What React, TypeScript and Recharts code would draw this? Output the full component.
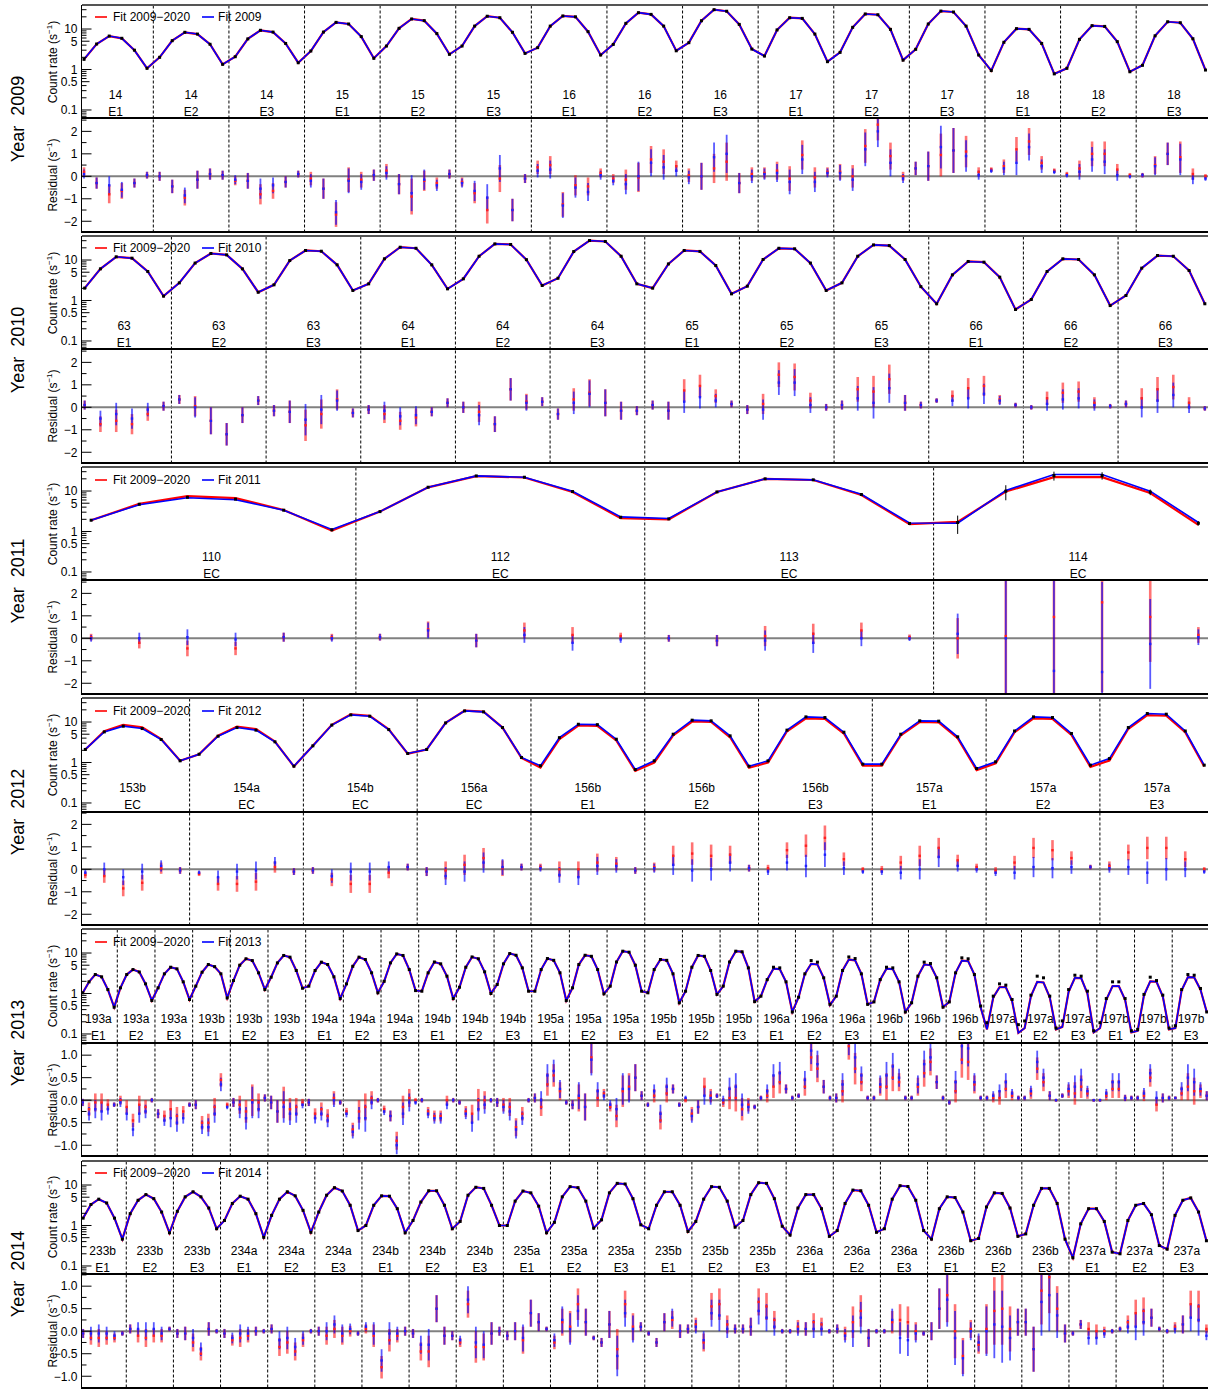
import React from "react";
import {
  ComposedChart,
  Line,
  Scatter,
  ErrorBar,
  XAxis,
  YAxis,
  ReferenceLine,
} from "recharts";

const FONT = "'Liberation Sans', Arial, Helvetica, sans-serif";
const W = 1210;
const PLOT_L = 81.5;
const PLOT_R = 1208;
const PANEL_H = 113.5;
const BLOCK_STEP = 231.1;
const FIRST_TOP = 5;

// ---------- segment labels ----------
const runs2009 = ["14", "14", "14", "15", "15", "15", "16", "16", "16", "17", "17", "17", "18", "18", "18"];
const modes2009 = ["E1", "E2", "E3", "E1", "E2", "E3", "E1", "E2", "E3", "E1", "E2", "E3", "E1", "E2", "E3"];
const runs2010 = ["63", "63", "63", "64", "64", "64", "65", "65", "65", "66", "66", "66"];
const modes2010 = ["E1", "E2", "E3", "E1", "E2", "E3", "E1", "E2", "E3", "E1", "E2", "E3"];
const runs2011 = ["110", "112", "113", "114"];
const modes2011 = ["EC", "EC", "EC", "EC"];
const runs2012 = ["153b", "154a", "154b", "156a", "156b", "156b", "156b", "157a", "157a", "157a"];
const modes2012 = ["EC", "EC", "EC", "EC", "E1", "E2", "E3", "E1", "E2", "E3"];
const runs2013 = [
  "193a", "193a", "193a", "193b", "193b", "193b", "194a", "194a", "194a", "194b", "194b", "194b",
  "195a", "195a", "195a", "195b", "195b", "195b", "196a", "196a", "196a", "196b", "196b", "196b",
  "197a", "197a", "197a", "197b", "197b", "197b",
];
const modes2013 = [
  "E1", "E2", "E3", "E1", "E2", "E3", "E1", "E2", "E3", "E1", "E2", "E3", "E1", "E2", "E3",
  "E1", "E2", "E3", "E1", "E2", "E3", "E1", "E2", "E3", "E1", "E2", "E3", "E1", "E2", "E3",
];
const runs2014 = [
  "233b", "233b", "233b", "234a", "234a", "234a", "234b", "234b", "234b", "235a", "235a", "235a",
  "235b", "235b", "235b", "236a", "236a", "236a", "236b", "236b", "236b", "237a", "237a", "237a",
];
const modes2014 = [
  "E1", "E2", "E3", "E1", "E2", "E3", "E1", "E2", "E3", "E1", "E2", "E3",
  "E1", "E2", "E3", "E1", "E2", "E3", "E1", "E2", "E3", "E1", "E2", "E3",
];

// ---------- count rates (s^-1) ----------
const rate2009 = [
  1.78, 4.26, 6.7, 5.9, 3.0, 1.07,
  2.0, 5.15, 8.3, 7.5, 4.2, 1.34,
  2.07, 5.7, 9.3, 8.4, 4.4, 1.47,
  2.86, 8.4, 14.6, 13.3, 6.5, 1.89,
  3.8, 10.4, 17.7, 16.1, 7.7, 2.37,
  3.8, 11.8, 20.7, 19, 8.3, 2.5,
  3.46, 11.8, 21, 20, 8.6, 2.28,
  4.17, 13.8, 25.3, 23, 11.8, 2.9,
  4.6, 16, 30, 27.5, 13, 3.2,
  2.15, 9.5, 19, 18.3, 7.5, 1.56,
  2.65, 11, 23.5, 22.5, 9.8, 1.7,
  3.15, 13.3, 27.8, 26.3, 11.8, 2.28,
  0.94, 4.7, 10.2, 9.8, 4.4, 0.78,
  1.07, 5.55, 12.1, 11.6, 4.87, 0.88,
  1.27, 6.8, 15.1, 14.3, 5.75, 0.97,
];
const rate2010 = [
  2.02, 6.05, 12, 11.1, 5.2, 1.28,
  2.73, 8.4, 14.5, 13.4, 6.05, 1.6,
  2.44, 9.7, 17.2, 16.5, 7.6, 1.77,
  2.58, 10.7, 20.7, 19.5, 7.6, 1.94,
  3.43, 12.4, 25, 24.2, 10.2, 2.35,
  3.55, 16.2, 30.3, 28.7, 12.4, 2.58,
  2.02, 8.0, 17.2, 16.3, 7.3, 1.46,
  2.26, 10.3, 19.5, 18.9, 8.4, 1.77,
  2.73, 12.4, 23.6, 22.7, 10.3, 2.2,
  0.83, 4.3, 9.2, 8.85, 3.77, 0.6,
  1.06, 5.2, 10.7, 10.3, 4.3, 0.75,
  1.33, 6.3, 12.9, 12.4, 5.5, 0.83,
];
const rate2011 = [
  1.9, 4.7, 7.0, 6.3, 3.36, 1.1,
  3.1, 12.4, 23.6, 21.9, 9.7, 2.25,
  2.05, 9.5, 20, 18.9, 8.2, 1.58,
  1.67, 9.9, 24.1, 24.1, 9.4, 1.6,
];
const rateErr2011 = [
  0.1, 0.2, 0.3, 0.3, 0.15, 0.08,
  0.15, 0.5, 0.8, 0.8, 0.4, 0.1,
  0.1, 0.4, 0.7, 0.7, 0.3, 0.08,
  0.8, 4, 6, 5, 1.5, 0.2,
];
const fit2011 = [
  1.9, 4.6, 6.8, 6.1, 3.36, 1.12,
  3.1, 12.4, 23.6, 21.9, 9.9, 2.3,
  2.1, 9.5, 20, 18.9, 8.3, 1.62,
  1.6, 10.3, 25.5, 25.5, 9.9, 1.67,
];
const fitAll2011 = [
  1.9, 4.8, 7.5, 6.7, 3.4, 1.05,
  3.1, 12.3, 23.4, 21.6, 9.5, 2.15,
  2.0, 9.5, 20, 18.7, 8.0, 1.52,
  1.73, 9.7, 22, 22, 8.9, 1.46,
];
const rate2012 = [
  2.1, 5.7, 7.9, 6.9, 3.7, 1.1,
  1.6, 4.46, 7.3, 6.3, 3.24, 0.81,
  2.58, 8.4, 15, 13.9, 6.5, 1.67,
  2.1, 9.5, 18.8, 17.8, 7.3, 1.33,
  0.83, 4.1, 8.8, 8.6, 3.76, 0.67,
  1.1, 5.0, 11.1, 10.7, 4.55, 0.81,
  1.1, 6.3, 13.4, 12.9, 5.6, 0.91,
  0.91, 5.0, 10.7, 10.5, 4.3, 0.71,
  1.04, 6.0, 13.4, 12.9, 5.2, 0.86,
  1.25, 7.3, 16.2, 15.6, 6.0, 0.86,
];
const fitAll2012 = [
  2.1, 5.9, 8.5, 7.4, 3.8, 1.1,
  1.6, 4.6, 7.7, 6.7, 3.3, 0.8,
  2.6, 8.5, 15.5, 14.3, 6.6, 1.65,
  2.1, 9.5, 19, 18, 7.3, 1.3,
  0.75, 3.8, 8.2, 8.0, 3.5, 0.62,
  1.0, 4.7, 10.3, 10.0, 4.2, 0.74,
  1.0, 5.9, 12.3, 11.9, 5.2, 0.84,
  0.84, 4.7, 10.0, 9.8, 4.0, 0.65,
  0.95, 5.6, 12.3, 11.9, 4.8, 0.78,
  1.12, 6.8, 14.8, 14.3, 5.6, 0.8,
];
const rate2013 = [
  1.04, 1.94, 2.94, 2.58, 1.25, 0.46,
  1.38, 2.94, 3.9, 3.4, 1.73, 0.67,
  1.38, 3.06, 4.46, 4.06, 1.94, 0.71,
  1.52, 3.36, 5.2, 4.6, 3.06, 0.78,
  2.09, 5.0, 7.2, 6.5, 3.24, 1.25,
  2.53, 5.7, 8.7, 7.9, 3.7, 1.35,
  1.52, 3.7, 5.95, 5.2, 2.58, 0.75,
  1.73, 4.7, 7.9, 6.9, 3.24, 1.04,
  2.0, 5.7, 9.5, 8.7, 3.9, 1.18,
  1.14, 3.24, 6.0, 5.4, 2.68, 0.75,
  1.43, 4.46, 8.0, 7.2, 3.43, 1.0,
  1.67, 5.4, 9.7, 8.8, 4.3, 1.14,
  1.14, 3.9, 7.3, 6.6, 3.24, 0.67,
  1.38, 5.2, 8.8, 8.3, 3.9, 0.98,
  1.52, 6.0, 11.1, 10.5, 5.0, 1.14,
  1.04, 3.9, 6.9, 6.6, 3.06, 0.59,
  1.14, 4.46, 8.7, 8.3, 3.7, 0.95,
  1.52, 6.0, 11.1, 10.7, 4.3, 0.63,
  0.86, 2.2, 4.46, 4.3, 1.94, 0.35,
  0.81, 3.06, 6.5, 5.95, 2.44, 0.54,
  0.86, 3.7, 8.0, 7.3, 3.06, 0.54,
  0.62, 2.2, 4.46, 4.3, 1.94, 0.35,
  0.59, 2.68, 5.95, 5.5, 2.44, 0.46,
  0.62, 3.24, 7.6, 7.2, 2.94, 0.49,
  0.19, 0.86, 1.73, 1.61, 0.71, 0.17,
  0.21, 0.91, 2.68, 2.44, 0.86, 0.14,
  0.21, 1.25, 2.83, 2.68, 1.14, 0.12,
  0.19, 0.75, 1.94, 1.94, 0.75, 0.12,
  0.13, 0.95, 2.53, 2.09, 0.91, 0.14,
  0.16, 1.25, 2.94, 2.83, 1.33, 0.35,
];
const fit2013 = [
  1.04, 1.94, 2.94, 2.58, 1.25, 0.46,
  1.38, 2.94, 3.9, 3.4, 1.73, 0.67,
  1.38, 3.06, 4.46, 4.06, 1.94, 0.71,
  1.52, 3.36, 5.2, 4.6, 3.06, 0.78,
  2.09, 5.0, 7.2, 6.5, 3.24, 1.25,
  2.53, 5.7, 8.7, 7.9, 3.7, 1.35,
  1.52, 3.7, 5.95, 5.2, 2.58, 0.75,
  1.73, 4.7, 7.9, 6.9, 3.24, 1.04,
  2.0, 5.7, 9.5, 8.7, 3.9, 1.18,
  1.14, 3.24, 6.0, 5.4, 2.68, 0.75,
  1.43, 4.46, 8.0, 7.2, 3.43, 1.0,
  1.67, 5.4, 9.7, 8.8, 4.3, 1.14,
  1.14, 3.9, 7.3, 6.6, 3.24, 0.67,
  1.38, 5.2, 8.8, 8.3, 3.9, 0.98,
  1.52, 6.0, 11.1, 10.5, 5.0, 1.14,
  1.04, 3.9, 6.9, 6.6, 3.06, 0.59,
  1.14, 4.46, 8.7, 8.3, 3.7, 0.95,
  1.52, 6.0, 11.1, 10.7, 4.3, 0.63,
  0.86, 2.2, 4.1, 4.0, 1.94, 0.35,
  0.81, 3.06, 5.4, 5.2, 2.44, 0.52,
  0.86, 3.7, 6.9, 6.6, 3.06, 0.54,
  0.62, 2.2, 4.1, 4.0, 1.94, 0.35,
  0.59, 2.68, 5.2, 5.0, 2.44, 0.46,
  0.62, 3.24, 6.5, 6.3, 2.94, 0.45,
  0.13, 0.8, 1.43, 1.43, 0.65, 0.107,
  0.14, 0.86, 1.94, 1.87, 0.81, 0.13,
  0.15, 1.1, 2.44, 2.4, 1.0, 0.11,
  0.14, 0.7, 1.52, 1.52, 0.7, 0.11,
  0.12, 0.9, 2.0, 1.95, 0.85, 0.13,
  0.14, 1.2, 2.53, 2.5, 1.25, 0.35,
];
const rate2014 = [
  1.52, 3.3, 4.47, 3.6, 1.52, 0.46,
  1.96, 4.2, 5.8, 4.6, 2.15, 0.66,
  2.24, 5.1, 6.8, 5.1, 2.7, 0.83,
  1.33, 3.5, 5.3, 4.47, 1.96, 0.51,
  1.78, 4.47, 6.8, 5.4, 2.37, 0.68,
  2.15, 5.6, 8.6, 7.1, 3.16, 0.75,
  1.0, 3.16, 5.4, 5.3, 2.6, 0.66,
  1.33, 3.8, 7.2, 7.2, 3.16, 0.83,
  1.26, 5.6, 8.8, 8.25, 3.16, 1.0,
  1.0, 4.0, 7.1, 6.4, 3.0, 0.66,
  1.2, 5.1, 9.1, 8.6, 4.0, 0.86,
  1.38, 6.4, 11, 10.6, 4.6, 1.04,
  0.83, 3.16, 6.8, 6.8, 3.16, 0.71,
  1.26, 4.47, 9.1, 8.8, 4.0, 0.91,
  1.33, 5.8, 11.4, 11, 4.6, 0.96,
  0.58, 2.7, 5.8, 5.8, 2.6, 0.54,
  0.75, 3.5, 7.5, 7.2, 3.16, 0.68,
  0.83, 4.47, 9.6, 9.2, 4.2, 0.75,
  0.46, 2.6, 5.1, 4.9, 2.15, 0.42,
  0.48, 2.87, 6.4, 6.2, 2.7, 0.54,
  0.62, 3.16, 8.25, 8.25, 3.5, 0.46,
  0.16, 1.1, 2.6, 2.6, 1.26, 0.22,
  0.2, 1.33, 3.16, 3.5, 1.85, 0.32,
  0.26, 1.78, 4.2, 4.8, 2.15, 0.42,
];

// ---------- residuals (s^-1): red = fit 2009-2020, blue = fit of the year ----------
const resRed2009 = [
  0.2, -0.3, -0.8, -0.65, -0.3, 0.05,
  0, -0.45, -0.95, -0.15, 0.1, 0.05,
  -0.2, -0.2, -0.8, -0.65, -0.25, 0.1,
  -0.1, -0.55, -1.7, -0.15, -0.15, 0.05,
  0.25, -0.35, -0.9, -0.2, -0.3, 0.1,
  -0.25, -0.75, -1.5, -0.1, -1.5, -0.1,
  0.4, 0.5, -1.25, -0.4, -0.45, 0.15,
  -0.1, -0.15, -0.05, 0.75, 0.65, 0.45,
  0.05, 0, 0.35, 0.65, -0.3, 0.1,
  0.15, 0.25, -0.1, 0.95, -0.05, 0.2,
  0.2, 0, 1.35, 2.3, 0.9, 0,
  0.35, 0.45, 0.95, 1.15, 1.1, 0.2,
  0.3, 0.45, 1.2, 1.55, 0.6, 0.25,
  0.1, 0.35, 1.0, 1.0, 0.3, 0.05,
  0.05, 0.5, 1.0, 0.85, 0.1, 0,
];
const resBlue2009 = [
  0.1, -0.3, -0.4, -0.6, -0.3, 0.05,
  0, -0.45, -0.85, -0.15, 0.1, 0.05,
  -0.15, -0.2, -0.55, -0.4, -0.25, 0.1,
  -0.2, -0.55, -1.6, -0.2, -0.25, 0.05,
  0.15, -0.35, -0.75, -0.15, -0.4, 0.1,
  -0.3, -0.65, -0.95, 0.35, -1.5, -0.1,
  0.25, 0.3, -1.3, -0.5, -0.7, 0.05,
  -0.2, -0.35, 0, 0.6, 0.4, 0.25,
  -0.05, 0, 0.85, 1.0, -0.3, 0,
  0.1, 0.15, -0.25, 0.75, -0.25, 0.15,
  0.15, -0.15, 1.2, 2.0, 0.6, -0.1,
  0.35, 0.45, 1.3, 1.15, 0.9, 0.05,
  0.25, 0.35, 0.6, 1.3, 0.45, 0.2,
  0.05, 0.2, 0.75, 0.65, 0.05, 0,
  0.05, 0.45, 1.0, 0.75, -0.1, -0.1,
];
const resErr2009 = [
  0.2, 0.25, 0.4, 0.35, 0.2, 0.15,
  0.2, 0.3, 0.35, 0.4, 0.25, 0.2,
  0.2, 0.35, 0.45, 0.35, 0.25, 0.15,
  0.3, 0.45, 0.55, 0.55, 0.35, 0.25,
  0.3, 0.45, 0.8, 0.45, 0.25, 0.2,
  0.2, 0.45, 0.6, 0.6, 0.5, 0.2,
  0.3, 0.4, 0.55, 0.45, 0.4, 0.2,
  0.2, 0.45, 0.65, 0.6, 0.55, 0.25,
  0.3, 0.6, 0.65, 0.85, 0.45, 0.3,
  0.25, 0.4, 0.55, 0.65, 0.45, 0.2,
  0.35, 0.5, 0.75, 0.7, 0.6, 0.2,
  0.3, 0.65, 0.95, 1.0, 0.7, 0.2,
  0.1, 0.3, 0.55, 0.6, 0.3, 0.1,
  0.1, 0.35, 0.55, 0.55, 0.25, 0.1,
  0.1, 0.4, 0.5, 0.7, 0.25, 0.1,
];
const resRed2010 = [
  0.1, -0.75, -0.6, -0.75, -0.3, 0.05,
  0.35, 0.05, -0.6, -1.2, -0.35, 0.3,
  -0.15, -0.2, -0.8, -0.3, 0.35, -0.25,
  -0.1, -0.3, -0.6, -0.45, -0.2, 0.2,
  0, -0.2, -0.75, 0.8, 0.25, 0.25,
  -0.3, 0.35, 0.65, 0.2, -0.15, -0.15,
  0.1, -0.15, 0.75, 0.95, 0.5, 0.15,
  -0.1, 0.15, 1.45, 1.35, 0.3, 0,
  0.1, 0.8, 0.7, 1.25, 0.2, 0.1,
  0.3, 0.5, 0.85, 0.95, 0.35, 0.1,
  0, 0.4, 0.65, 0.7, 0.2, 0.05,
  0.15, 0.4, 0.8, 0.9, 0.2, -0.05,
];
const resBlue2010 = [
  0.1, -0.5, -0.3, -0.5, -0.1, 0.05,
  0.35, 0, -0.6, -1.2, -0.35, 0.3,
  -0.15, -0.2, -0.55, -0.1, 0.3, -0.25,
  -0.1, -0.15, -0.4, -0.35, -0.2, 0.2,
  0, -0.35, -0.75, 0.8, 0.2, 0.25,
  -0.3, 0.2, 0.6, 0.2, -0.15, -0.15,
  0.1, -0.15, 0.25, 0.45, 0.3, 0.15,
  -0.1, -0.1, 1.1, 1.1, 0.1, 0,
  0.1, 0.4, 0.2, 0.85, 0.2, 0.1,
  0.3, 0.3, 0.4, 0.6, 0.3, 0.1,
  0, 0.15, 0.35, 0.4, 0.1, 0.05,
  0.15, 0, 0.3, 0.55, 0, -0.05,
];
const resErr2010 = [
  0.2, 0.35, 0.5, 0.45, 0.3, 0.2,
  0.2, 0.45, 0.6, 0.5, 0.35, 0.2,
  0.25, 0.5, 0.7, 0.65, 0.45, 0.2,
  0.2, 0.4, 0.4, 0.4, 0.2, 0.2,
  0.25, 0.45, 0.35, 0.5, 0.35, 0.2,
  0.25, 0.5, 0.6, 0.6, 0.4, 0.2,
  0.2, 0.4, 0.5, 0.5, 0.3, 0.15,
  0.2, 0.45, 0.55, 0.6, 0.35, 0.15,
  0.2, 0.55, 0.7, 0.65, 0.35, 0.15,
  0.1, 0.25, 0.45, 0.45, 0.2, 0.1,
  0.1, 0.3, 0.45, 0.45, 0.25, 0.1,
  0.15, 0.45, 0.55, 0.55, 0.25, 0.1,
];
const resRed2011 = [
  0.05, -0.2, -0.45, -0.45, 0.05, 0.05,
  0.05, 0.4, -0.1, 0.35, 0.15, 0.1,
  0, -0.1, 0.1, 0.2, 0.35, 0.05,
  0, 0.1, 0.95, 1.6, 0.95, 0.15,
];
const resBlue2011 = [
  0, 0, 0.05, -0.05, 0.05, 0,
  0.05, 0.35, -0.1, 0.15, -0.2, -0.05,
  0, -0.1, -0.1, -0.2, 0, 0,
  0.2, 0, -1.45, -1.5, -0.25, 0.05,
];
const resErr2011 = [
  0.15, 0.25, 0.35, 0.3, 0.2, 0.15,
  0.15, 0.35, 0.3, 0.35, 0.35, 0.15,
  0.15, 0.25, 0.45, 0.45, 0.35, 0.12,
  0.9, 4, 4, 4, 2, 0.35,
];
const resRed2012 = [
  -0.25, -0.3, -0.85, -0.6, 0.05, -0.05,
  -0.2, -0.65, -0.65, -0.55, 0.1, -0.1,
  -0.05, -0.45, -0.65, -0.65, -0.15, 0.1,
  -0.1, -0.05, 0.2, 0.5, 0.05, 0.1,
  0.1, 0, 0, 0.3, 0.25, -0.05,
  0.1, 0.6, 0.7, 0.6, 0.65, 0.05,
  0.05, 0.85, 1.05, 1.4, 0.45, 0,
  0, 0.3, 0.6, 0.95, 0.4, 0.1,
  -0.05, 0.3, 0.95, 0.85, 0.5, 0.1,
  0.15, 0.75, 0.95, 0.95, 0.45, 0,
];
const resBlue2012 = [
  -0.15, 0, -0.35, -0.1, 0.15, -0.05,
  -0.15, -0.35, -0.1, -0.05, 0.3, -0.1,
  -0.05, -0.3, -0.1, -0.1, 0.1, 0.1,
  -0.1, -0.3, -0.1, 0.3, 0.1, 0.1,
  0.05, -0.25, -0.35, 0.15, 0.15, -0.05,
  0.05, 0.2, -0.05, 0, 0.3, 0.05,
  -0.1, 0.3, 0.15, 0.65, 0.05, -0.1,
  -0.1, -0.15, 0, 0.55, 0.15, 0,
  -0.15, -0.15, 0.1, 0.05, 0.1, 0.1,
  0.05, 0.1, -0.15, 0, 0, -0.1,
];
const resErr2012 = [
  0.15, 0.3, 0.35, 0.35, 0.25, 0.15,
  0.1, 0.3, 0.35, 0.4, 0.25, 0.15,
  0.15, 0.3, 0.4, 0.4, 0.25, 0.15,
  0.2, 0.4, 0.45, 0.45, 0.35, 0.15,
  0.15, 0.35, 0.35, 0.4, 0.3, 0.15,
  0.2, 0.45, 0.5, 0.5, 0.4, 0.15,
  0.15, 0.35, 0.5, 0.55, 0.3, 0.1,
  0.15, 0.3, 0.45, 0.45, 0.25, 0.15,
  0.15, 0.3, 0.45, 0.45, 0.3, 0.1,
  0.2, 0.35, 0.5, 0.5, 0.35, 0.1,
];
const resRed2013 = [
  -0.05, -0.2, -0.05, -0.05, -0.1, -0.1,
  0, -0.15, -0.45, -0.1, -0.15, 0,
  -0.3, -0.35, -0.2, -0.35, -0.25, -0.1,
  -0.1, -0.5, -0.5, -0.15, 0.45, -0.1,
  -0.05, -0.1, -0.25, 0, -0.05, 0.05,
  -0.05, -0.25, -0.05, -0.2, -0.15, -0.05,
  -0.05, -0.3, -0.2, -0.35, 0.05, -0.05,
  -0.25, -0.65, -0.25, -0.15, 0.05, 0,
  -0.2, -0.35, -0.9, -0.15, 0.05, 0,
  0, -0.25, -0.35, -0.35, 0, 0,
  -0.05, -0.25, -0.3, 0, 0, 0,
  -0.05, -0.1, -0.15, -0.6, -0.3, 0,
  0.05, -0.15, 0.35, 0.55, 0.2, -0.05,
  -0.1, 0.05, -0.15, 0.95, 0.05, 0.15,
  -0.15, -0.35, 0.2, 0.3, 0.5, 0.1,
  -0.1, 0.1, -0.45, 0.15, 0.25, -0.1,
  0, -0.3, -0.15, 0.3, 0.1, 0.1,
  -0.05, 0.05, 0.05, -0.2, -0.1, -0.15,
  0.05, 0.1, 0.3, 0.4, 0.25, 0.05,
  0.1, 0.3, 0.95, 0.7, 0.3, 0.05,
  0.05, 0.2, 1.2, 0.7, 0.4, 0.05,
  0.05, 0.3, 0.3, 0.5, 0.4, 0.05,
  0.05, 0.3, 0.6, 0.85, 0.4, 0.05,
  -0.05, 0.2, 0.9, 0.85, 0.35, 0.05,
  0.05, 0.05, 0.05, 0.25, 0.1, 0.05,
  0.05, 0.15, 0.7, 0.4, 0.1, 0,
  0.1, 0.2, 0.15, 0.3, 0.15, 0,
  0, 0.1, 0.25, 0.25, 0.05, 0.05,
  0.05, 0.1, 0.5, -0.1, 0.05, 0.05,
  0.05, 0.15, 0.3, 0.2, 0.2, 0.1,
];
const resBlue2013 = [
  -0.05, -0.3, -0.2, -0.25, -0.2, -0.1,
  -0.05, -0.3, -0.65, -0.3, -0.25, 0,
  -0.3, -0.45, -0.4, -0.5, -0.4, -0.1,
  -0.1, -0.6, -0.6, -0.3, 0.35, -0.15,
  -0.05, -0.2, -0.4, -0.05, -0.2, 0.05,
  -0.05, -0.25, -0.15, -0.3, -0.3, -0.1,
  -0.05, -0.4, -0.3, -0.45, 0, -0.05,
  -0.3, -0.7, -0.4, -0.4, -0.05, 0,
  -0.25, -0.35, -1.0, -0.3, -0.05, -0.05,
  0, -0.3, -0.4, -0.4, -0.1, 0,
  -0.05, -0.3, -0.5, -0.2, -0.1, 0,
  -0.05, -0.15, -0.25, -0.65, -0.4, 0,
  0.05, 0, 0.55, 0.65, 0.25, -0.05,
  -0.1, 0.1, -0.15, 0.9, 0.2, 0.1,
  -0.1, -0.2, 0.25, 0.25, 0.5, 0.1,
  -0.1, 0.2, -0.3, 0.3, 0.25, -0.1,
  0.05, -0.35, -0.15, 0.1, 0.05, 0.1,
  0, 0.25, 0.3, -0.1, -0.15, -0.15,
  0.05, 0.2, 0.55, 0.6, 0.25, 0.05,
  0.1, 0.45, 1.1, 0.8, 0.3, 0.05,
  0.05, 0.35, 1.3, 0.95, 0.55, 0.05,
  0.05, 0.35, 0.55, 0.75, 0.5, 0.05,
  0.05, 0.35, 0.8, 0.95, 0.4, 0.05,
  -0.05, 0.4, 1.2, 1.15, 0.4, 0.05,
  0.05, 0.1, 0.2, 0.4, 0.15, 0.05,
  0.05, 0.2, 0.85, 0.5, 0.1, 0,
  0.1, 0.25, 0.3, 0.45, 0.2, 0,
  0, 0.15, 0.4, 0.4, 0.05, 0.05,
  0.05, 0.15, 0.6, 0.05, 0.05, 0.05,
  0.05, 0.25, 0.5, 0.4, 0.25, 0.1,
];
const resErr2013 = [
  0.08, 0.15, 0.2, 0.2, 0.12, 0.05,
  0.1, 0.15, 0.15, 0.2, 0.15, 0.05,
  0.1, 0.12, 0.2, 0.2, 0.12, 0.05,
  0.1, 0.15, 0.2, 0.2, 0.15, 0.05,
  0.1, 0.2, 0.25, 0.35, 0.2, 0.08,
  0.15, 0.25, 0.35, 0.25, 0.2, 0.08,
  0.08, 0.12, 0.15, 0.15, 0.15, 0.05,
  0.08, 0.15, 0.25, 0.3, 0.15, 0.05,
  0.08, 0.12, 0.2, 0.25, 0.2, 0.05,
  0.05, 0.1, 0.12, 0.12, 0.1, 0.05,
  0.05, 0.12, 0.2, 0.25, 0.2, 0.05,
  0.1, 0.15, 0.2, 0.2, 0.15, 0.05,
  0.1, 0.2, 0.25, 0.25, 0.2, 0.05,
  0.1, 0.3, 0.3, 0.35, 0.2, 0.1,
  0.1, 0.25, 0.35, 0.3, 0.3, 0.1,
  0.05, 0.15, 0.2, 0.2, 0.1, 0.05,
  0.05, 0.15, 0.15, 0.2, 0.15, 0.05,
  0.1, 0.25, 0.3, 0.25, 0.15, 0.05,
  0.05, 0.15, 0.25, 0.25, 0.1, 0.05,
  0.05, 0.2, 0.3, 0.3, 0.15, 0.05,
  0.1, 0.25, 0.3, 0.35, 0.2, 0.05,
  0.05, 0.2, 0.3, 0.3, 0.2, 0.05,
  0.05, 0.2, 0.3, 0.3, 0.15, 0.05,
  0.05, 0.25, 0.4, 0.4, 0.2, 0.05,
  0.05, 0.1, 0.15, 0.2, 0.1, 0.05,
  0.05, 0.12, 0.25, 0.2, 0.1, 0.03,
  0.05, 0.15, 0.25, 0.25, 0.12, 0.03,
  0.03, 0.1, 0.2, 0.2, 0.07, 0.05,
  0.05, 0.12, 0.2, 0.15, 0.1, 0.05,
  0.03, 0.15, 0.3, 0.3, 0.15, 0.1,
];
const resRed2014 = [
  -0.05, -0.15, -0.15, -0.15, -0.15, -0.05,
  0.05, -0.1, -0.15, -0.1, -0.1, 0.05,
  -0.05, -0.05, -0.25, -0.5, 0.05, 0,
  -0.05, -0.2, -0.15, -0.1, 0, 0,
  0.05, -0.35, -0.25, -0.45, -0.2, 0,
  0, -0.1, 0.05, -0.1, 0, -0.05,
  0.05, -0.1, -0.8, -0.2, -0.1, 0,
  -0.05, -0.45, -0.45, 0.5, -0.1, -0.1,
  -0.25, 0.6, -0.35, -0.35, -0.05, 0,
  -0.1, 0, -0.2, 0.4, 0.2, 0.05,
  -0.25, 0.2, 0.1, 0.6, 0.2, -0.15,
  -0.25, 0.15, -0.4, 0.6, 0.1, 0.1,
  -0.05, -0.25, 0.2, 0.25, 0, 0.05,
  0.15, -0.25, 0.55, 0.6, 0.15, 0.05,
  0.05, 0.1, 0.65, 0.55, 0.25, 0,
  0, 0.1, 0.05, 0.2, 0.15, 0,
  0.05, -0.05, 0.2, 0.45, -0.15, 0,
  0, 0.2, 0.25, 0.2, 0, -0.05,
  0, 0.5, 0.8, 0, -0.55, 0.05,
  -0.3, 0.05, 0.45, 0.5, 0.05, 0.2,
  0.2, -0.4, 0.9, 1.2, 0.5, -0.05,
  -0.05, 0.15, 0.05, 0, 0, 0,
  0.05, 0.2, 0.4, 0.45, 0.3, 0.05,
  0, 0.1, 0.15, 0.6, 0.55, 0.05,
];
const resBlue2014 = [
  -0.05, -0.05, -0.05, -0.05, -0.1, -0.05,
  0.05, 0.05, 0, 0.05, -0.05, 0.05,
  -0.05, -0.05, -0.15, -0.4, 0.05, 0,
  -0.05, -0.15, -0.05, -0.05, 0, 0,
  0.05, -0.2, -0.15, -0.35, -0.15, 0,
  0, 0, 0.15, -0.05, 0.05, -0.05,
  0.1, -0.05, -0.65, -0.05, -0.05, 0,
  -0.05, -0.3, -0.3, 0.5, -0.1, -0.1,
  -0.2, 0.7, -0.25, -0.3, -0.05, 0,
  -0.1, 0, -0.15, 0.4, 0.2, 0.05,
  -0.2, 0.25, 0.05, 0.45, 0.2, -0.15,
  -0.25, 0.15, -0.55, 0.4, 0.05, 0.1,
  -0.05, -0.25, 0.2, 0.3, 0, 0.05,
  0.1, -0.2, 0.4, 0.35, 0.05, 0.05,
  0.05, 0.1, 0.45, 0.3, 0.1, 0,
  0, 0.05, 0.05, 0.05, 0.05, 0,
  0.05, -0.1, 0, 0.3, -0.15, 0,
  0, 0.25, -0.15, -0.2, -0.05, -0.05,
  0, 0.5, 0.7, -0.15, -0.6, 0,
  -0.25, 0, 0.15, 0.1, -0.15, 0.2,
  0.2, -0.4, 0.65, 0.8, 0.35, -0.05,
  -0.05, 0.15, -0.15, -0.15, -0.05, 0,
  0.05, 0.1, 0.1, 0.2, 0.3, 0.05,
  0, 0.05, 0.15, 0.3, 0.25, -0.1,
];
const resErr2014 = [
  0.1, 0.15, 0.2, 0.15, 0.1, 0.05,
  0.1, 0.15, 0.2, 0.15, 0.15, 0.05,
  0.1, 0.15, 0.2, 0.15, 0.15, 0.05,
  0.1, 0.12, 0.2, 0.15, 0.1, 0.05,
  0.1, 0.2, 0.25, 0.2, 0.15, 0.05,
  0.1, 0.2, 0.2, 0.2, 0.12, 0.05,
  0.1, 0.25, 0.25, 0.25, 0.15, 0.1,
  0.1, 0.2, 0.35, 0.3, 0.2, 0.1,
  0.1, 0.3, 0.35, 0.3, 0.25, 0.1,
  0.1, 0.2, 0.3, 0.3, 0.2, 0.05,
  0.15, 0.3, 0.35, 0.35, 0.3, 0.05,
  0.1, 0.3, 0.45, 0.3, 0.3, 0.1,
  0.05, 0.1, 0.2, 0.2, 0.15, 0.1,
  0.15, 0.2, 0.3, 0.35, 0.2, 0.1,
  0.1, 0.2, 0.3, 0.3, 0.2, 0.05,
  0.05, 0.15, 0.15, 0.2, 0.15, 0.05,
  0.1, 0.15, 0.35, 0.35, 0.2, 0.05,
  0.05, 0.25, 0.35, 0.35, 0.2, 0.05,
  0.2, 0.45, 0.6, 0.6, 0.4, 0.2,
  0.2, 0.55, 0.75, 0.8, 0.5, 0.3,
  0.3, 0.5, 0.75, 0.8, 0.5, 0.2,
  0.05, 0.1, 0.15, 0.15, 0.1, 0.05,
  0.05, 0.15, 0.3, 0.3, 0.2, 0.05,
  0.05, 0.1, 0.2, 0.3, 0.35, 0.1,
];

// ---------- axis ticks ----------
const rateTicks = [0.07, 0.08, 0.09, 0.1, 0.2, 0.3, 0.4, 0.5, 0.6, 0.7, 0.8, 0.9, 1, 2, 3, 4, 5, 6, 7, 8, 9, 10, 20, 30];
const rateLabels = [0.1, 0.5, 1, 5, 10];
const coarseTicks = [-2.5, -2, -1.5, -1, -0.5, 0, 0.5, 1, 1.5, 2, 2.5];
const fineTicks = [-1, -0.75, -0.5, -0.25, 0, 0.25, 0.5, 0.75, 1, 1.25];

type BlockProps = {
  index: number;
  year: string;
  runs: string[];
  modes: string[];
  rate: number[];
  fit: number[];
  fitAll: number[];
  rateErr?: number[];
  resRed: number[];
  resBlue: number[];
  resErr: number[];
  fine: boolean;
};

const blocks: Omit<BlockProps, "index">[] = [
  { year: "2009", runs: runs2009, modes: modes2009, rate: rate2009, fit: rate2009, fitAll: rate2009, resRed: resRed2009, resBlue: resBlue2009, resErr: resErr2009, fine: false },
  { year: "2010", runs: runs2010, modes: modes2010, rate: rate2010, fit: rate2010, fitAll: rate2010, resRed: resRed2010, resBlue: resBlue2010, resErr: resErr2010, fine: false },
  { year: "2011", runs: runs2011, modes: modes2011, rate: rate2011, fit: fit2011, fitAll: fitAll2011, rateErr: rateErr2011, resRed: resRed2011, resBlue: resBlue2011, resErr: resErr2011, fine: false },
  { year: "2012", runs: runs2012, modes: modes2012, rate: rate2012, fit: rate2012, fitAll: fitAll2012, resRed: resRed2012, resBlue: resBlue2012, resErr: resErr2012, fine: false },
  { year: "2013", runs: runs2013, modes: modes2013, rate: rate2013, fit: fit2013, fitAll: fit2013, resRed: resRed2013, resBlue: resBlue2013, resErr: resErr2013, fine: true },
  { year: "2014", runs: runs2014, modes: modes2014, rate: rate2014, fit: rate2014, fitAll: rate2014, resRed: resRed2014, resBlue: resBlue2014, resErr: resErr2014, fine: true },
];

const minus = (s: string) => s.replace("-", "\u2212");

function RateTick(props: any) {
  const { x, y, payload } = props;
  const v = payload.value;
  const big = v === 0.1 || v === 1 || v === 10;
  const mid = v === 0.5 || v === 5;
  const len = big ? 10 : mid ? 8 : 5;
  return (
    <g>
      <line x1={x} x2={x + len} y1={y} y2={y} stroke="#000" strokeWidth={1} />
      {rateLabels.includes(v) && (
        <text x={x - 4} y={y + 4.3} textAnchor="end" fontSize={12} fontFamily={FONT} fill="#000">
          {String(v)}
        </text>
      )}
    </g>
  );
}

function ResTick(props: any) {
  const { x, y, payload, fine, side } = props;
  const v = payload.value;
  const major = fine ? Number.isInteger(v * 2) : Number.isInteger(v);
  const len = side === "right" ? -5 : major ? 10 : 5;
  return (
    <g>
      <line x1={x} x2={x + len} y1={y} y2={y} stroke="#000" strokeWidth={1} />
      {side !== "right" && major && (
        <text x={x - 4} y={y + 4.3} textAnchor="end" fontSize={12} fontFamily={FONT} fill="#000">
          {minus(fine ? v.toFixed(1) : v.toFixed(0))}
        </text>
      )}
    </g>
  );
}

// two-line label of a segment, hung on an invisible reference line at the segment centre
function SegLabel(props: any) {
  const { viewBox, run, mode } = props;
  if (!viewBox) return null;
  const x = viewBox.x;
  const bottom = Math.max(viewBox.y, viewBox.y + viewBox.height);
  return (
    <g>
      <text x={x} y={bottom - 19.2} textAnchor="middle" fontSize={12} fontFamily={FONT} fill="#000">
        {run}
      </text>
      <text x={x} y={bottom - 2.7} textAnchor="middle" fontSize={12} fontFamily={FONT} fill="#000">
        {mode}
      </text>
    </g>
  );
}

const DataMark = (p: any) => <rect x={p.cx - 1.5} y={p.cy - 1.5} width={3} height={3} fill="#000" />;
const RedMark = (p: any) => <rect x={p.cx - 1.2} y={p.cy - 1.2} width={2.4} height={2.4} fill="#ff2020" />;
const BlueMark = (p: any) => <rect x={p.cx - 1.2} y={p.cy - 1.2} width={2.4} height={2.4} fill="#2020ff" />;

function YearBlock(p: BlockProps) {
  const top = FIRST_TOP + BLOCK_STEP * p.index;
  const n = p.rate.length;
  const xDomain: [number, number] = [-0.2, n - 0.8];
  const rows = p.rate.map((v, i) => ({
    i,
    rate: v,
    fit: p.fit[i],
    fitAll: p.fitAll[i],
    err: p.rateErr ? p.rateErr[i] : 0,
  }));
  const resRows = p.resRed.map((v, i) => ({ i, red: v, blue: p.resBlue[i], err: p.resErr[i] }));
  const bounds = p.runs.slice(1).map((_, k) => 6 * (k + 1) - 0.5);
  const centers = p.runs.map((_, k) => 6 * k + 2.5);
  const resDomain: [number, number] = p.fine ? [-1.25, 1.27] : [-2.5, 2.55];
  const resTicks = p.fine ? fineTicks : coarseTicks;
  const margin = { top: 0, right: W - PLOT_R, bottom: 0, left: 0 };

  return (
    <>
      <div style={{ position: "absolute", left: 0, top }}>
        <ComposedChart width={W} height={PANEL_H} data={rows} margin={margin}>
          <XAxis dataKey="i" type="number" domain={xDomain} allowDataOverflow hide />
          <YAxis
            yAxisId="l"
            scale="log"
            type="number"
            domain={[0.0616, 39.2]}
            allowDataOverflow
            ticks={rateTicks}
            interval={0}
            width={PLOT_L}
            tickLine={false}
            tickSize={0}
            tickMargin={0}
            axisLine={{ stroke: "#000", strokeWidth: 1 }}
            tick={(tp: any) => <RateTick {...tp} />}
          />
          <YAxis yAxisId="r" orientation="right" type="number" domain={[0, 1]} width={0} tick={false} tickLine={false} axisLine={{ stroke: "#333", strokeWidth: 1 }} />
          {bounds.map((b) => (
            <ReferenceLine key={"b" + b} yAxisId="l" x={b} stroke="#000" strokeWidth={1} strokeDasharray="3 2" />
          ))}
          {centers.map((c, k) => (
            <ReferenceLine
              key={"c" + c}
              yAxisId="l"
              x={c}
              stroke="transparent"
              strokeWidth={0}
              label={(lp: any) => <SegLabel viewBox={lp.viewBox} run={p.runs[k]} mode={p.modes[k]} />}
            />
          ))}
          <Line yAxisId="l" dataKey="fitAll" stroke="#ff0000" strokeWidth={2.2} dot={false} isAnimationActive={false} />
          <Line yAxisId="l" dataKey="fit" stroke="#0000ff" strokeWidth={1.6} dot={false} isAnimationActive={false} />
          <Scatter yAxisId="l" dataKey="rate" fill="#000" shape={DataMark} isAnimationActive={false}>
            {p.rateErr && <ErrorBar dataKey="err" direction="y" width={0} stroke="#000" strokeWidth={1} />}
          </Scatter>
        </ComposedChart>
      </div>

      <div style={{ position: "absolute", left: 0, top: top + PANEL_H }}>
        <ComposedChart width={W} height={PANEL_H} data={resRows} margin={margin}>
          <XAxis dataKey="i" type="number" domain={xDomain} allowDataOverflow hide />
          <YAxis
            yAxisId="l"
            type="number"
            domain={resDomain}
            allowDataOverflow
            ticks={resTicks}
            interval={0}
            width={PLOT_L}
            tickLine={false}
            tickSize={0}
            tickMargin={0}
            axisLine={{ stroke: "#000", strokeWidth: 1 }}
            tick={(tp: any) => <ResTick {...tp} fine={p.fine} side="left" />}
          />
          <YAxis
            yAxisId="r"
            orientation="right"
            type="number"
            domain={resDomain}
            allowDataOverflow
            ticks={resTicks}
            interval={0}
            width={0}
            tickLine={false}
            tickSize={0}
            tickMargin={0}
            axisLine={{ stroke: "#333", strokeWidth: 1 }}
            tick={(tp: any) => <ResTick {...tp} fine={p.fine} side="right" />}
          />
          {bounds.map((b) => (
            <ReferenceLine key={"b" + b} yAxisId="l" x={b} stroke="#000" strokeWidth={1} strokeDasharray="3 2" />
          ))}
          <ReferenceLine yAxisId="l" y={0} stroke="#808080" strokeWidth={2} />
          <Scatter yAxisId="l" dataKey="red" shape={RedMark} isAnimationActive={false}>
            <ErrorBar dataKey="err" direction="y" width={0} stroke="rgba(255,0,0,0.55)" strokeWidth={2.6} />
          </Scatter>
          <Scatter yAxisId="l" dataKey="blue" shape={BlueMark} isAnimationActive={false}>
            <ErrorBar dataKey="err" direction="y" width={0} stroke="rgba(0,0,255,0.65)" strokeWidth={1.8} />
          </Scatter>
        </ComposedChart>
      </div>

      {/* frame lines */}
      <div style={{ position: "absolute", left: PLOT_L, top: top - 1, width: PLOT_R - PLOT_L, height: 0, borderTop: "2px solid #555" }} />
      <div style={{ position: "absolute", left: PLOT_L - 1, top: top + PANEL_H - 1.25, width: PLOT_R - PLOT_L + 1, height: 0, borderTop: "2.5px solid #000" }} />
      <div style={{ position: "absolute", left: PLOT_L - 1, top: top + 2 * PANEL_H - 1, width: PLOT_R - PLOT_L + 1, height: 0, borderTop: "2px solid #000" }} />

      {/* legend */}
      <div
        style={{
          position: "absolute",
          left: 95,
          top: top + 5.3,
          height: 14,
          display: "flex",
          alignItems: "center",
          whiteSpace: "nowrap",
          fontFamily: FONT,
          fontSize: 12,
          lineHeight: "14px",
          color: "#000",
        }}
      >
        <span style={{ display: "inline-block", width: 12, height: 2, background: "rgba(255,0,0,0.8)", marginRight: 6 }} />
        <span>Fit 2009{"\u2212"}2020</span>
        <span style={{ display: "inline-block", width: 12, height: 2, background: "rgba(0,0,255,0.8)", marginLeft: 12, marginRight: 4 }} />
        <span>Fit {p.year}</span>
      </div>

      {/* axis titles */}
      <div
        style={{
          position: "absolute",
          left: 18,
          top: top + PANEL_H,
          transform: "translate(-50%, -50%) rotate(-90deg)",
          whiteSpace: "nowrap",
          fontFamily: FONT,
          fontSize: 18,
          color: "#000",
        }}
      >
        Year&nbsp;&nbsp;{p.year}
      </div>
      <div
        style={{
          position: "absolute",
          left: 52,
          top: top + PANEL_H / 2,
          transform: "translate(-50%, -50%) rotate(-90deg)",
          whiteSpace: "nowrap",
          fontFamily: FONT,
          fontSize: 12,
          color: "#000",
        }}
      >
        Count rate (s<sup style={{ fontSize: 8 }}>{"\u2212"}1</sup>)
      </div>
      <div
        style={{
          position: "absolute",
          left: 52,
          top: top + PANEL_H * 1.5,
          transform: "translate(-50%, -50%) rotate(-90deg)",
          whiteSpace: "nowrap",
          fontFamily: FONT,
          fontSize: 12,
          color: "#000",
        }}
      >
        Residual (s<sup style={{ fontSize: 8 }}>{"\u2212"}1</sup>)
      </div>
    </>
  );
}

export default function App() {
  return (
    <div style={{ position: "absolute", left: 0, top: 0, width: W, height: 1389, background: "#fff", overflow: "hidden" }}>
      {blocks.map((b, k) => (
        <YearBlock key={b.year} index={k} {...b} />
      ))}
    </div>
  );
}
